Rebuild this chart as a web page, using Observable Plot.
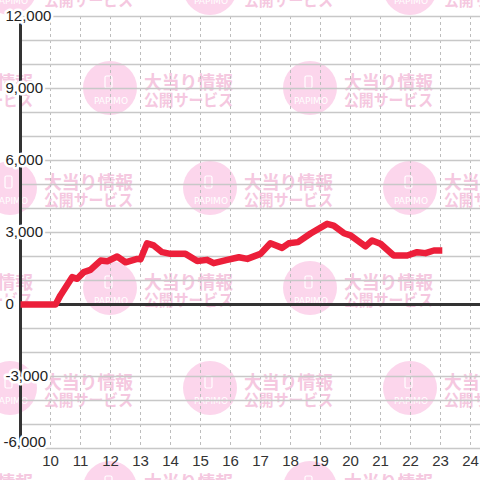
<!DOCTYPE html>
<html><head><meta charset="utf-8">
<script src="https://cdn.jsdelivr.net/npm/d3@7"></script>
<script src="https://cdn.jsdelivr.net/npm/@observablehq/plot@0.6"></script>
<style>
html,body{margin:0;padding:0;background:#fff;}
#wrap{position:relative;width:480px;height:480px;overflow:hidden;}
#wm{position:absolute;left:0;top:0;z-index:0;}
#chart{position:absolute;left:0;top:0;z-index:1;}
</style>
</head><body>
<div id="wrap"><svg id="wm" width="480" height="480"></svg><div id="chart"></div></div>
<script>
// Data (hour of day, cumulative value)
const hours  = [9.0, 10.17, 10.33, 10.72, 10.89, 11.11, 11.33, 11.67, 11.89, 12.22, 12.5, 12.89, 13.0, 13.22, 13.44, 13.72, 14.0, 14.5, 14.89, 15.22, 15.44, 15.89, 16.28, 16.56, 17.0, 17.33, 17.72, 17.94, 18.25, 18.67, 19.22, 19.44, 19.78, 20.0, 20.5, 20.72, 21.0, 21.44, 21.89, 22.22, 22.5, 22.78, 23.06];
const values = [0, 0, 380, 1140, 1070, 1350, 1440, 1830, 1800, 2000, 1760, 1900, 1880, 2550, 2460, 2180, 2110, 2110, 1810, 1860, 1720, 1860, 1970, 1900, 2110, 2550, 2360, 2550, 2600, 2960, 3360, 3290, 2970, 2880, 2420, 2670, 2530, 2040, 2040, 2180, 2140, 2250, 2250];
const xTicks = [10, 11, 12, 13, 14, 15, 16, 17, 18, 19, 20, 21, 22, 23, 24];
const yTicks = [-6000, -3000, 0, 3000, 6000, 9000, 12000];
const yGrid  = [-6000, -5000, -4000, -3000, -2000, -1000, 0, 1000, 2000, 3000, 4000, 5000, 6000, 7000, 8000, 9000, 10000, 11000, 12000];
const wmLine1 = "大当り情報";
const wmLine2 = "公開サービス";
const wmLogo = "PAPIMO";

const data = hours.map((h, i) => ({h, v: values[i]}));
const fmt = d => d.toLocaleString("en-US");

// Background watermark (decoration)
const wm = d3.select("#wm");
for (let r = 0; r <= 5; r++) {
  const cy = -12 + 100 * r;
  const x0 = r % 2 === 0 ? 10 : 110;
  for (let k = -1; k <= 2; k++) {
    const cx = x0 + 200 * k;
    const g = wm.append("g").attr("transform", `translate(${cx},${cy})`);
    g.append("circle").attr("r", 27).attr("fill", "#fcd6ec");
    g.append("rect").attr("x", -5).attr("y", -12).attr("width", 7).attr("height", 12).attr("rx", 1.5)
      .attr("fill", "none").attr("stroke", "#fff").attr("stroke-width", 1.2);
    g.append("text").attr("x", 1).attr("y", 13).attr("text-anchor", "middle").attr("dominant-baseline", "central")
      .attr("font-family", "DejaVu Sans, sans-serif").attr("font-size", 9).attr("fill", "#fff")
      .attr("textLength", 34).attr("lengthAdjust", "spacingAndGlyphs").text(wmLogo);
    g.append("text").attr("x", 34).attr("y", -7).attr("dominant-baseline", "central")
      .attr("font-family", "Noto Sans CJK JP, sans-serif").attr("font-weight", "bold").attr("font-size", 18)
      .attr("fill", "#f5c8e0").attr("textLength", 89).attr("lengthAdjust", "spacingAndGlyphs").text(wmLine1);
    g.append("text").attr("x", 34).attr("y", 11).attr("dominant-baseline", "central")
      .attr("font-family", "Noto Sans CJK JP, sans-serif").attr("font-weight", "bold").attr("font-size", 16)
      .attr("fill", "#f5c8e0").attr("textLength", 89).attr("lengthAdjust", "spacingAndGlyphs").text(wmLine2);
  }
}

const chart = Plot.plot({
  width: 480, height: 480,
  marginLeft: 20, marginRight: 0, marginTop: 16, marginBottom: 32,
  x: {domain: [9, 24 + 1/3], axis: null},
  y: {domain: [-6000, 12000], axis: null},
  style: {background: "transparent", fontFamily: "Liberation Sans, Arial, sans-serif", overflow: "visible"},
  marks: [
    Plot.ruleX(xTicks, {stroke: "#bdbdbd", strokeWidth: 1, strokeDasharray: "3,3"}),
    Plot.ruleY(yGrid, {stroke: "#c8c8c8", strokeWidth: 1.5}),
    Plot.ruleY([0], {stroke: "#333", strokeWidth: 3}),
    Plot.ruleX([9], {stroke: "#333", strokeWidth: 3}),
    Plot.line(data, {x: "h", y: "v", stroke: "#ec1f3a", strokeWidth: 6.5, strokeLinejoin: "round", strokeLinecap: "butt"}),
    Plot.text(yTicks.filter(d => d !== -6000), {x: 9, y: d => d, text: fmt, textAnchor: "start", dx: -15,
      fontSize: 15, fill: "#222", stroke: "white", strokeWidth: 5, paintOrder: "stroke"}),
    Plot.text(yTicks.filter(d => d === -6000), {x: 9, y: d => d, text: fmt, textAnchor: "start", dx: -17, dy: -6,
      fontSize: 15, fill: "#222", stroke: "white", strokeWidth: 5, paintOrder: "stroke"}),
    Plot.text(xTicks, {x: d => d, y: -6000, text: d => String(d), dy: 13, fontSize: 15, fill: "#333"})
  ]
});
document.getElementById("chart").appendChild(chart);
</script>
</body></html>
